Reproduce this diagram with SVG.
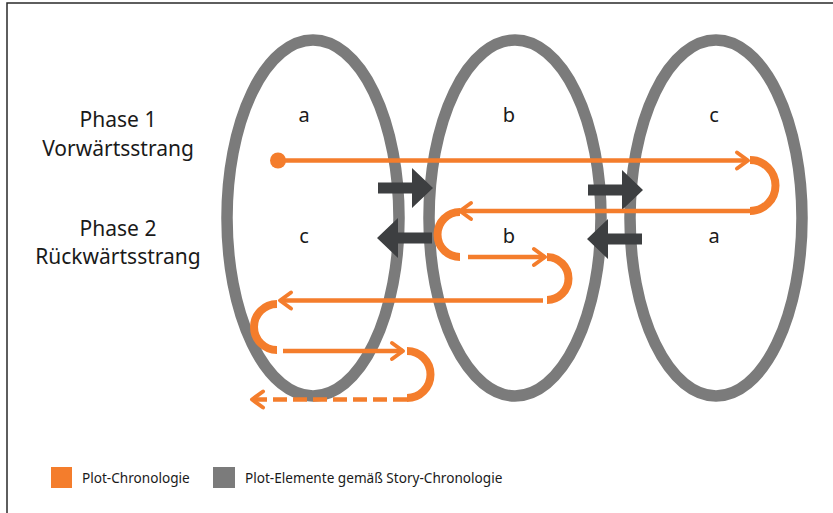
<svg xmlns="http://www.w3.org/2000/svg" width="833" height="513" viewBox="0 0 833 513">
<style>
.ell{fill:none;stroke:#7b7b7b;stroke-width:11.5}
.or{fill:none;stroke:#f47d2c;stroke-width:4.5}
.arc{fill:none;stroke:#f47d2c;stroke-width:8}
.dash{stroke-dasharray:14 6}
.blk{fill:#3d3f41}
.lbl{font-family:"Noto Sans","Open Sans",sans-serif;font-size:20px;fill:#1a1a1a;text-anchor:middle}
.ph{font-family:"Noto Sans","Open Sans",sans-serif;font-size:21px;fill:#1a1a1a;text-anchor:middle}
.leg{font-family:"Noto Sans","Open Sans",sans-serif;font-size:13.6px;fill:#1a1a1a}
</style>
<defs>
<marker id="chev" markerUnits="userSpaceOnUse" orient="auto" refX="0" refY="0" markerWidth="30" markerHeight="30" overflow="visible">
<path d="M-11,-8 L0,0 L-11,8" fill="none" stroke="#f47d2c" stroke-width="4" stroke-linecap="round" stroke-linejoin="round"/>
</marker>
<path id="barrow" d="M-55,-5.5 H-21 V-20 L0,0 L-21,20 V5.5 H-55 Z"/>
</defs>
<rect width="833" height="513" fill="#ffffff"/>
<path d="M7,513 V3 H833" fill="none" stroke="#2a2a2a" stroke-width="1.5"/>
<g id="phase-labels">
<text class="ph" x="118" y="127">Phase 1</text>
<text class="ph" x="118" y="156">Vorwärtsstrang</text>
<text class="ph" x="118" y="236">Phase 2</text>
<text class="ph" x="118" y="264">Rückwärtsstrang</text>
</g>
<g id="node-left">
<ellipse class="ell" cx="313" cy="218" rx="86" ry="178"/>
<text class="lbl" x="304" y="122">a</text>
<text class="lbl" x="304" y="243">c</text>
</g>
<g id="node-middle">
<ellipse class="ell" cx="515" cy="218" rx="86" ry="178"/>
<text class="lbl" x="509" y="122">b</text>
<text class="lbl" x="509" y="243">b</text>
</g>
<g id="node-right">
<ellipse class="ell" cx="716" cy="218" rx="86" ry="178"/>
<text class="lbl" x="714" y="122">c</text>
<text class="lbl" x="714" y="243">a</text>
</g>
<g id="connectors">
<g class="blk">
<use href="#barrow" transform="translate(433,188)"/>
<use href="#barrow" transform="translate(643,190)"/>
<use href="#barrow" transform="translate(377,238) scale(-1,1)"/>
<use href="#barrow" transform="translate(587,239) scale(-1,1)"/>
</g>
<circle cx="278" cy="160.5" r="8" fill="#f47d2c"/>
<path class="or" d="M278,160.5 H748" marker-end="url(#chev)"/>
<path class="arc" d="M750,160 A25.5,25.5 0 0 1 750,211"/>
<path class="or" d="M750,211 H460" marker-end="url(#chev)"/>
<path class="arc" d="M460,212 A22.5,22.5 0 0 0 460,257"/>
<path class="or" d="M468,257 H545" marker-end="url(#chev)"/>
<path class="arc" d="M547,257 A21.5,21.5 0 0 1 547,300"/>
<path class="or" d="M543,300.5 H280" marker-end="url(#chev)"/>
<path class="arc" d="M277,304 A23,23 0 0 0 277,350"/>
<path class="or" d="M283,351 H403" marker-end="url(#chev)"/>
<path class="arc" d="M407,351 A23.5,23.5 0 0 1 407,398"/>
<path class="or dash" d="M407,399.5 H252" marker-end="url(#chev)"/>
</g>
<g id="legend">
<rect x="51" y="467" width="21" height="21" fill="#f47d2c"/>
<text class="leg" x="82" y="483">Plot-Chronologie</text>
<rect x="213" y="467" width="22" height="21" fill="#7b7b7b"/>
<text class="leg" x="245" y="483">Plot-Elemente gemäß Story-Chronologie</text>
</g>
</svg>
